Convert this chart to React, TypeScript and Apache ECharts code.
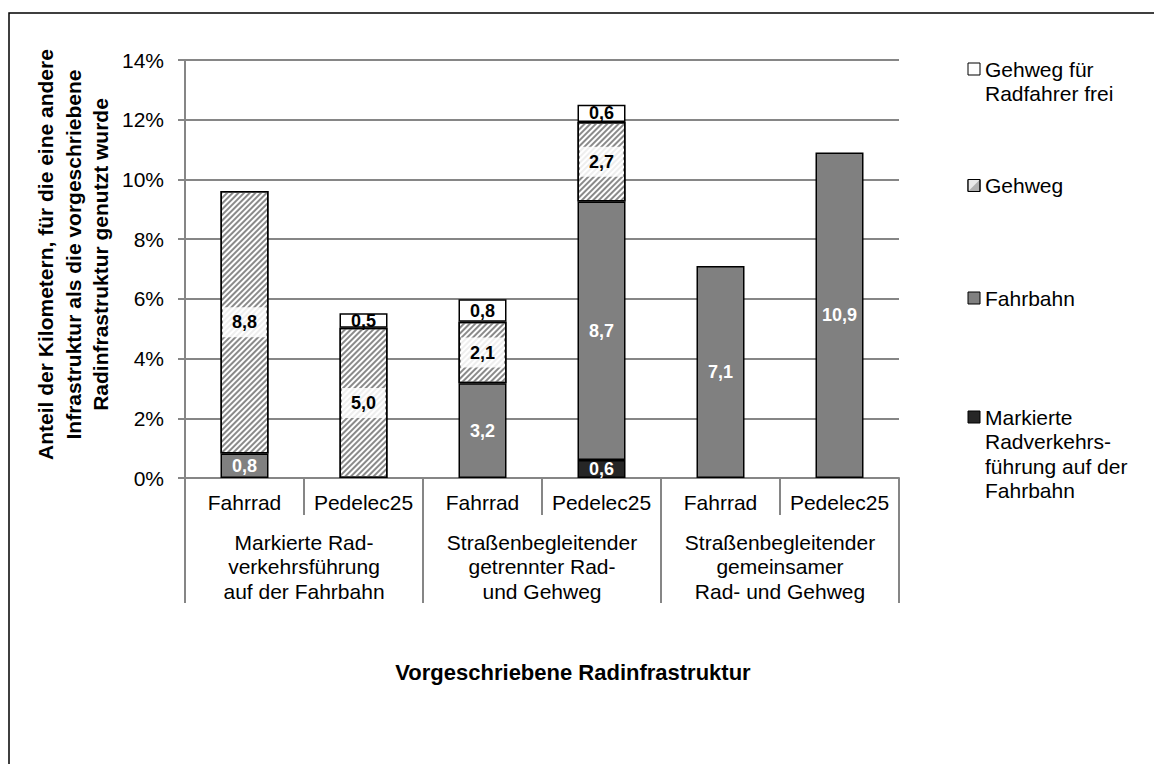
import React, { useEffect, useRef } from "react";
import * as echarts from "echarts";

const FONT = '"Liberation Sans", Arial, sans-serif';

const categories = ["Fahrrad", "Pedelec25", "Fahrrad", "Pedelec25", "Fahrrad", "Pedelec25"];
const groups = [
  "Markierte Rad-\nverkehrsführung\nauf der Fahrbahn",
  "Straßenbegleitender\ngetrennter Rad-\nund Gehweg",
  "Straßenbegleitender\ngemeinsamer\nRad- und Gehweg",
];
const seriesNames = ["Markierte Radverkehrsführung auf der Fahrbahn", "Fahrbahn", "Gehweg", "Gehweg für Radfahrer frei"];
const legendLabels = [
  "Markierte\nRadverkehrs-\nführung auf der\nFahrbahn",
  "Fahrbahn",
  "Gehweg",
  "Gehweg für\nRadfahrer frei",
];
const markierte = [null, null, null, 0.6, null, null];
const fahrbahn = [0.82, null, 3.17, 8.66, 7.1, 10.9];
const gehweg = [8.79, 5.03, 2.06, 2.66, null, null];
const gehwegFrei = [null, 0.49, 0.76, 0.58, null, null];
const yMin = 0;
const yMax = 14;
const yStep = 2;

const fmt = (p: any) => Number(p.value).toFixed(1).replace(".", ",");

export default function App() {
  const ref = useRef<HTMLDivElement>(null);
  useEffect(() => {
    if (!ref.current) return;
    const chart = echarts.init(ref.current, null, { renderer: "svg" });
    const border = { borderColor: "#000", borderWidth: 1.5 };
    const labelBase = { show: true, position: "inside", formatter: fmt, fontFamily: FONT, fontSize: 18, fontWeight: "bold" };
    const legendY = [417, 298, 185.5, 69];
    const legendFill = ["#262626", "#808080", "#b0b0b0", "#ffffff"];
    const graphic: any[] = [
      {
        type: "rect",
        silent: true,
        z: -10,
        shape: { x: 9, y: 13, width: 1200, height: 800 },
        style: { fill: "none", stroke: "#000", lineWidth: 1.5 },
      },
      {
        type: "text",
        x: 573,
        y: 672,
        style: {
          text: "Vorgeschriebene Radinfrastruktur",
          fontFamily: FONT,
          fontSize: 22,
          fontWeight: "bold",
          fill: "#000",
          align: "center",
          textAlign: "center",
          verticalAlign: "middle",
          textVerticalAlign: "middle",
        },
      },
      {
        type: "text",
        x: 73,
        y: 254.5,
        rotation: Math.PI / 2,
        style: {
          text: "Anteil der Kilometern, für die eine andere\nInfrastruktur als die vorgeschriebene\nRadinfrastruktur genutzt wurde",
          fontFamily: FONT,
          fontSize: 21,
          fontWeight: "bold",
          lineHeight: 27.5,
          fill: "#000",
          align: "center",
          textAlign: "center",
          verticalAlign: "middle",
          textVerticalAlign: "middle",
        },
      },
    ];
    legendLabels.forEach((lab, i) => {
      graphic.push({
        type: "rect",
        shape: { x: 968, y: legendY[i] - 6, width: 12, height: 12 },
        style: { fill: legendFill[i], stroke: "#000", lineWidth: 1 },
      });
      if (i === 2) {
        graphic.push({
          type: "polygon",
          shape: { points: [[968.5, legendY[i] + 5.5], [968.5, legendY[i] - 5.5], [979.5, legendY[i] - 5.5]] },
          style: { fill: "#e8e8e8" },
        });
        graphic.push({
          type: "rect",
          shape: { x: 968, y: legendY[i] - 6, width: 12, height: 12 },
          style: { fill: "none", stroke: "#000", lineWidth: 1 },
        });
      }
      graphic.push({
        type: "text",
        x: 985,
        y: legendY[i] - 12.25,
        style: {
          text: lab,
          fontFamily: FONT,
          fontSize: 21,
          lineHeight: 24.5,
          fill: "#000",
          align: "left",
          textAlign: "left",
          verticalAlign: "top",
          textVerticalAlign: "top",
        },
      });
    });

    const option: any = {
      animation: false,
      backgroundColor: "#fff",
      grid: { left: 185, right: 255, top: 60, bottom: 286, containLabel: false },
      xAxis: [
        {
          type: "category",
          data: categories,
          position: "bottom",
          axisLine: { show: true, lineStyle: { color: "#868686", width: 2 } },
          axisTick: { show: true, interval: 0, length: 37, lineStyle: { color: "#868686", width: 2 } },
          axisLabel: { interval: 0, margin: 12.5, fontFamily: FONT, fontSize: 21, lineHeight: 24.5, color: "#000" },
          splitLine: { show: false },
        },
        {
          type: "category",
          data: groups,
          position: "bottom",
          axisLine: { show: false },
          axisTick: { show: true, interval: 0, length: 125, lineStyle: { color: "#868686", width: 2 } },
          axisLabel: { interval: 0, margin: 52, fontFamily: FONT, fontSize: 21, lineHeight: 24.5, color: "#000" },
          splitLine: { show: false },
        },
      ],
      yAxis: {
        type: "value",
        min: yMin,
        max: yMax,
        interval: yStep,
        axisLine: { show: true, lineStyle: { color: "#868686", width: 2 } },
        axisTick: { show: true, length: 7, lineStyle: { color: "#868686", width: 2 } },
        axisLabel: { formatter: (v: number) => v + "%", margin: 21, fontFamily: FONT, fontSize: 21, color: "#000" },
        splitLine: { show: true, lineStyle: { color: "#868686", width: 2 } },
      },
      series: [
        {
          name: seriesNames[0],
          type: "bar",
          stack: "total",
          barWidth: 48,
          data: markierte,
          itemStyle: { color: "#262626", ...border },
          label: { ...labelBase, color: "#fff" },
        },
        {
          name: seriesNames[1],
          type: "bar",
          stack: "total",
          barWidth: 48,
          data: fahrbahn,
          itemStyle: { color: "#808080", ...border },
          label: { ...labelBase, color: "#fff" },
        },
        {
          name: seriesNames[2],
          type: "bar",
          stack: "total",
          barWidth: 48,
          data: gehweg,
          itemStyle: {
            color: "#ffffff",
            ...border,
            decal: {
              symbol: "rect",
              symbolSize: 1,
              dashArrayX: [1, 0],
              dashArrayY: [2, 2],
              rotation: -Math.PI / 4,
              color: "#8a8a8a",
            },
          },
          label: {
            ...labelBase,
            color: "#000",
            backgroundColor: "rgba(255,255,255,0.85)",
            padding: [6, 9, 6, 9],
          },
        },
        {
          name: seriesNames[3],
          type: "bar",
          stack: "total",
          barWidth: 48,
          data: gehwegFrei,
          itemStyle: { color: "#ffffff", ...border },
          label: { ...labelBase, color: "#000" },
        },
      ],
      graphic,
    };
    chart.setOption(option);
    return () => chart.dispose();
  }, []);
  return <div ref={ref} style={{ position: "absolute", left: 0, top: 0, width: 1154, height: 764 }} />;
}
